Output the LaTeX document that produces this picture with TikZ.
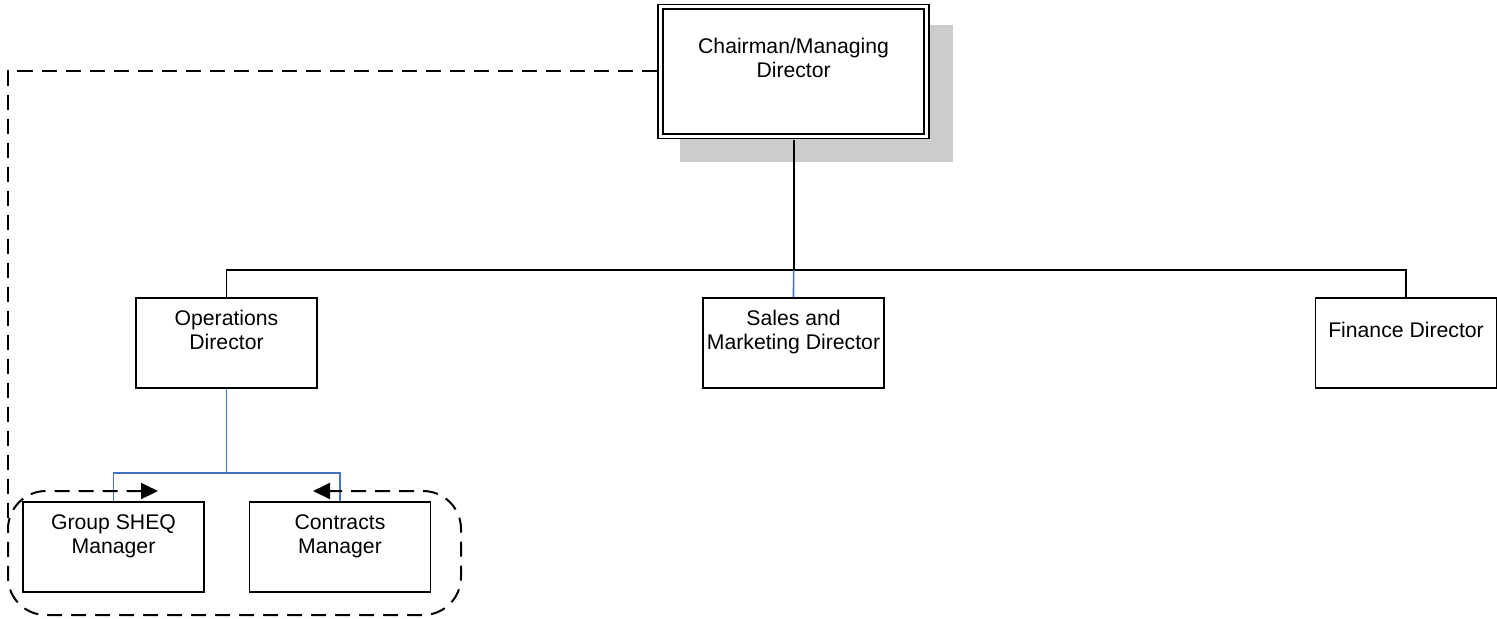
\documentclass[tikz,border=0pt]{standalone}
\usepackage{fontspec}
\setmainfont{Liberation Sans}
\usetikzlibrary{arrows.meta}

\definecolor{linkblue}{HTML}{4472C4}
\definecolor{shadowgray}{HTML}{CCCCCC}

\newcommand{\orgtext}[2][90pt]{\parbox[c][45pt][c]{#1}{\centering\strut #2\strut\par\vspace{10.8pt}}}

\tikzset{
	orgbox/.style={draw, line width=0.9pt, fill=white, minimum width=90.5pt, minimum height=45pt, inner sep=0pt, font=\fontsize{10.6}{12}\selectfont},
	headbox/.style={orgbox, double, double distance=1.4pt, minimum width=133pt, minimum height=64.7pt},
	blueline/.style={linkblue, line width=0.8pt},
	dashline/.style={line width=1pt, dash pattern=on 7.5pt off 4.5pt},
}

\begin{document}
\begin{tikzpicture}[x=0.5pt, y=-0.5pt]
		\useasboundingbox (0,0) rectangle (1497,618);
		
		\fill[shadowgray] (680,25) rectangle (953,162);
		\node[headbox] (chair) at (793.6,71.4) {\orgtext[130pt]{Chairman/Managing\\Director}};
		
		\node[orgbox] (ops) at (226.5,343) {\orgtext{Operations\\Director}};
		\node[orgbox] (sales) at (793.5,343) {\orgtext{Sales and\\Marketing Director}};
		\node[orgbox] (fin) at (1406,343) {\orgtext{Finance Director}};
		\node[orgbox] (sheq) at (113.5,547) {\orgtext{Group SHEQ\\Manager}};
		\node[orgbox] (contracts) at (340,547) {\orgtext{Contracts\\Manager}};
		
		\coordinate (bus) at (793.6,270);
		\coordinate (split) at (226.5,473);
		\coordinate (loopleft) at (8,525);
		\coordinate (sheqtip) at (158,491);
		\coordinate (contrtip) at (313,491);
		
		\draw[line width=0.9pt] ([yshift=-1.6pt]chair.south) -- (bus);
		\draw[line width=0.9pt] (ops.north) |- (bus) -| (fin.north);
		\draw[blueline] (bus) -- (sales.north);
		\draw[blueline] (ops.south) -- (split);
		\draw[blueline] (sheq.north) |- (split) -| (contracts.north);
		
		\draw[dashline] ([xshift=-1.6pt]chair.west) -| (loopleft);
		\draw[dashline, rounded corners=19pt, {Triangle[length=8.5pt,width=8pt]}-{Triangle[length=8.5pt,width=8pt]}] (sheqtip) -- (8,491) -- (8,615) -- (461,615) -- (461,491) -- (contrtip);
		
	\end{tikzpicture}
\end{document}
